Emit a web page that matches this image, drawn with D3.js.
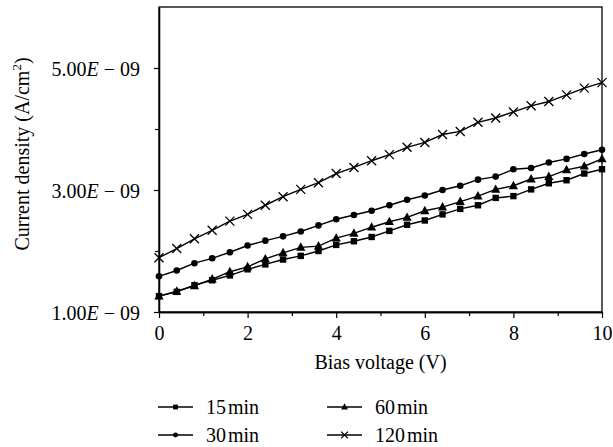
<!DOCTYPE html>
<html>
<head>
<meta charset="utf-8">
<script src="https://cdn.jsdelivr.net/npm/d3@7"></script>
<style>
  body { margin: 0; background: #fff; }
  svg { font-family: "Liberation Serif", "DejaVu Serif", serif; }
</style>
</head>
<body>
<div id="chart"></div>
<script>
const voltage = [0, 0.4, 0.8, 1.2, 1.6, 2.0, 2.4, 2.8, 3.2, 3.6, 4.0, 4.4, 4.8,
                 5.2, 5.6, 6.0, 6.4, 6.8, 7.2, 7.6, 8.0, 8.4, 8.8, 9.2, 9.6, 10]

// current density, in units of 1e-9 A/cm2
const min15 = [1.26, 1.33, 1.44, 1.52, 1.60, 1.70, 1.78, 1.86, 1.92, 2.00, 2.10, 2.16, 2.23,
               2.33, 2.43, 2.50, 2.60, 2.69, 2.75, 2.87, 2.90, 3.01, 3.11, 3.16, 3.27, 3.34]
const min30 = [1.585, 1.68, 1.80, 1.88, 1.98, 2.09, 2.17, 2.24, 2.32, 2.42, 2.52, 2.59, 2.66,
               2.75, 2.84, 2.91, 3.00, 3.07, 3.17, 3.22, 3.34, 3.36, 3.45, 3.51, 3.59, 3.66]
const min60 = [1.26, 1.34, 1.43, 1.54, 1.66, 1.74, 1.87, 1.97, 2.06, 2.08, 2.21, 2.29, 2.39,
               2.48, 2.55, 2.66, 2.72, 2.81, 2.90, 3.01, 3.07, 3.18, 3.22, 3.33, 3.39, 3.51]
const min120 = [1.89, 2.04, 2.20, 2.34, 2.49, 2.60, 2.75, 2.89, 3.01, 3.12, 3.27, 3.37, 3.48,
                3.58, 3.70, 3.78, 3.91, 3.96, 4.11, 4.18, 4.28, 4.38, 4.45, 4.56, 4.67, 4.76]

const seriesNames = ["15 min", "30 min", "60 min", "120 min"]
const seriesSymbols = ["square", "circle", "triangle", "cross"]
const xTicks = [0, 2, 4, 6, 8, 10]
const xMinorTicks = [1, 3, 5, 7, 9]
const yTicks = [1e-9, 3e-9, 5e-9]
const yMinorTicks = [2e-9, 4e-9]

const series = [min15, min30, min60, min120].map((vals, i) => ({
    name: seriesNames[i],
    symbol: seriesSymbols[i],
    points: vals.map((v, j) => ({x: voltage[j], y: v * 1e-9}))
}))

const width = 613
const height = 447
const margin = {top: 7, right: 11, bottom: 135, left: 159}
const fontSize = 20

const svg = d3.select("#chart").append("svg")
    .attr("width", width)
    .attr("height", height)

const x = d3.scaleLinear().domain([0, 10]).range([margin.left, width - margin.right])
const y = d3.scaleLinear().domain([1e-9, 6e-9]).range([height - margin.bottom, margin.top])

// frame
svg.append("rect")
    .attr("x", x(0)).attr("y", y(6e-9))
    .attr("width", x(10) - x(0)).attr("height", y(1e-9) - y(6e-9))
    .attr("fill", "none").attr("stroke", "#000").attr("stroke-width", 1.3)

const fmtY = v => (v / 1e-9).toFixed(2)

const xAxis = svg.append("g")
    .attr("transform", `translate(0,${y(1e-9)})`)
    .call(d3.axisBottom(x).tickValues(xTicks).tickSize(6).tickSizeOuter(0).tickPadding(8))
svg.append("g")
    .attr("transform", `translate(0,${y(1e-9)})`)
    .call(d3.axisBottom(x).tickValues(xMinorTicks).tickSize(4).tickSizeOuter(0).tickFormat(""))

const yAxis = svg.append("g")
    .attr("transform", `translate(${x(0)},0)`)
    .call(d3.axisLeft(y).tickValues(yTicks).tickSize(5).tickSizeOuter(0).tickFormat(""))
svg.append("g")
    .attr("transform", `translate(${x(0)},0)`)
    .call(d3.axisLeft(y).tickValues(yMinorTicks).tickSize(4).tickSizeOuter(0).tickFormat(""))

svg.selectAll(".domain").attr("stroke", "#000").attr("stroke-width", 1.3)
svg.selectAll(".tick line").attr("stroke", "#000").attr("stroke-width", 1.2)

xAxis.selectAll("text")
    .attr("font-size", fontSize)
    .attr("font-family", "Liberation Serif, serif")
    .attr("fill", "#000")

// y tick labels with italic E
yAxis.selectAll(".tick").each(function(d) {
    const t = d3.select(this).append("text")
        .attr("x", -19).attr("dy", "0.35em")
        .attr("text-anchor", "end")
        .attr("font-size", fontSize)
        .attr("font-family", "Liberation Serif, serif")
        .attr("fill", "#000")
    t.append("tspan").text(fmtY(d))
    t.append("tspan").attr("font-style", "italic").text("E")
    t.append("tspan").attr("dx", 5).text("\u2212")
    t.append("tspan").attr("dx", 5).text("09")
})

// axis titles
svg.append("text")
    .attr("x", (x(0) + x(10)) / 2).attr("y", 362).attr("dy", "0.35em")
    .attr("text-anchor", "middle")
    .attr("font-size", fontSize)
    .text("Bias voltage (V)")

const yt = svg.append("text")
    .attr("transform", `translate(22,154) rotate(-90)`)
    .attr("text-anchor", "middle")
    .attr("dy", "0.35em")
    .attr("font-size", fontSize)
yt.append("tspan").text("Current density (A/cm")
yt.append("tspan").attr("font-size", 13).attr("dy", -8).text("2")
yt.append("tspan").attr("dy", 8).text(")")

// symbols
function drawSymbol(g, kind, k) {
    if (kind === "square") {
        g.append("rect").attr("x", -3.2 * k).attr("y", -3.2 * k)
            .attr("width", 6.4 * k).attr("height", 6.4 * k).attr("fill", "#000")
    } else if (kind === "circle") {
        g.append("circle").attr("r", 3.3 * k).attr("fill", "#000")
    } else if (kind === "triangle") {
        g.append("path").attr("d", `M0,${-5 * k} L${4.6 * k},${3.4 * k} L${-4.6 * k},${3.4 * k} Z`).attr("fill", "#000")
    } else {
        const r = 4.5 * k
        g.append("path").attr("d", `M${-r},${-r} L${r},${r} M${-r},${r} L${r},${-r}`)
            .attr("stroke", "#000").attr("stroke-width", 1.3).attr("fill", "none")
    }
}

const line = d3.line().x(d => x(d.x)).y(d => y(d.y))

series.forEach(s => {
    svg.append("path")
        .datum(s.points)
        .attr("d", line)
        .attr("fill", "none")
        .attr("stroke", "#000")
        .attr("stroke-width", 1.4)
    svg.append("g").selectAll("g")
        .data(s.points)
        .join("g")
        .attr("transform", d => `translate(${x(d.x)},${y(d.y)})`)
        .each(function() { drawSymbol(d3.select(this), s.symbol, 1) })
})

// legend
const legendPos = [[158, 407], [158, 435], [327, 407], [327, 435]]
series.forEach((s, i) => {
    const [lx, ly] = legendPos[i]
    const g = svg.append("g").attr("transform", `translate(${lx},${ly})`)
    g.append("line").attr("x1", 0).attr("x2", 35).attr("stroke", "#000").attr("stroke-width", 1.4)
    const m = g.append("g").attr("transform", "translate(17.5,0)")
    drawSymbol(m, s.symbol, 0.75)
    const parts = s.name.split(" ")
    const t = g.append("text").attr("x", 48).attr("dy", "0.35em").attr("font-size", fontSize)
    t.append("tspan").text(parts[0])
    t.append("tspan").attr("dx", 2).text(parts[1])
})
</script>
</body>
</html>
